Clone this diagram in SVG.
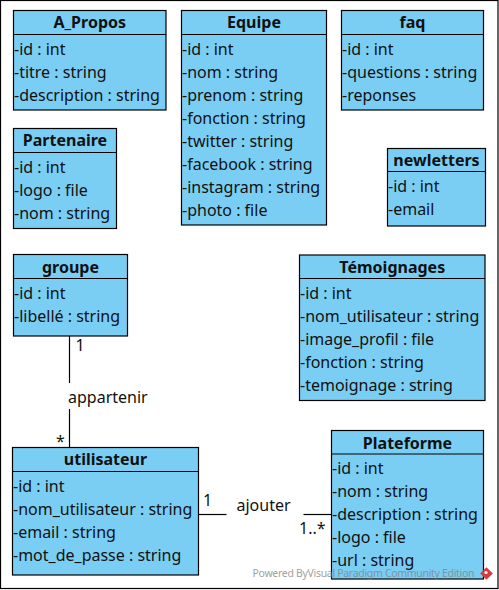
<svg xmlns="http://www.w3.org/2000/svg" width="499" height="590" viewBox="0 0 499 590">
<style>
.box{fill:#7acef4;stroke:#000;stroke-width:1.2}
.sep{stroke:#000;stroke-width:1.2}
.t{font-family:"Noto Sans","Open Sans","DejaVu Sans",sans-serif;font-size:16px;fill:#111}
.h{font-family:"Noto Sans","Open Sans","DejaVu Sans",sans-serif;font-size:16px;font-weight:bold;fill:#111;text-anchor:middle}
.ln{stroke:#000;stroke-width:1.2;fill:none}
.wm{font-family:"Noto Sans","DejaVu Sans",sans-serif;font-size:10.5px;fill:#808080;opacity:0.75}
</style>
<rect x="0.5" y="0.5" width="497.5" height="588" fill="#fff" stroke="#000" stroke-width="1.2"/>

<g id="A_Propos">
<rect class="box" x="13.5" y="10.5" width="152.5" height="99.5"/>
<line class="sep" x1="13.5" y1="34.5" x2="166" y2="34.5"/>
<text class="h" x="89.75" y="28.3">A_Propos</text>
<text class="t" x="14" y="54.5">-id : int</text>
<text class="t" x="14" y="77.5">-titre : string</text>
<text class="t" x="14" y="100.5">-description : string</text>
</g>

<g id="Equipe">
<rect class="box" x="181.5" y="10.5" width="145" height="214.5"/>
<line class="sep" x1="181.5" y1="34.5" x2="326.5" y2="34.5"/>
<text class="h" x="254" y="28.3">Equipe</text>
<text class="t" x="182" y="54.5">-id : int</text>
<text class="t" x="182" y="77.5">-nom : string</text>
<text class="t" x="182" y="100.5">-prenom : string</text>
<text class="t" x="182" y="123.5">-fonction : string</text>
<text class="t" x="182" y="146.5">-twitter : string</text>
<text class="t" x="182" y="169.5">-facebook : string</text>
<text class="t" x="182" y="192.5">-instagram : string</text>
<text class="t" x="182" y="215.5">-photo : file</text>
</g>

<g id="faq">
<rect class="box" x="341.5" y="10.5" width="142" height="99.5"/>
<line class="sep" x1="341.5" y1="34.5" x2="483.5" y2="34.5"/>
<text class="h" x="412.5" y="28.3">faq</text>
<text class="t" x="342" y="54.5">-id : int</text>
<text class="t" x="342" y="77.5">-questions : string</text>
<text class="t" x="342" y="100.5">-reponses</text>
</g>

<g id="Partenaire">
<rect class="box" x="13.5" y="128.5" width="103" height="100"/>
<line class="sep" x1="13.5" y1="152.5" x2="116.5" y2="152.5"/>
<text class="h" x="65" y="146.3">Partenaire</text>
<text class="t" x="14" y="172.5">-id : int</text>
<text class="t" x="14" y="195.5">-logo : file</text>
<text class="t" x="14" y="218.5">-nom : string</text>
</g>

<g id="newletters">
<rect class="box" x="387.5" y="148.5" width="98" height="77.5"/>
<line class="sep" x1="387.5" y1="171.5" x2="485.5" y2="171.5"/>
<text class="h" x="436.5" y="166">newletters</text>
<text class="t" x="388" y="191.7">-id : int</text>
<text class="t" x="388" y="214.7">-email</text>
</g>

<g id="Temoignages">
<rect class="box" x="299.5" y="255" width="185.5" height="145.5"/>
<line class="sep" x1="299.5" y1="278.5" x2="485" y2="278.5"/>
<text class="h" x="392.25" y="273">Témoignages</text>
<text class="t" x="300" y="298.5">-id : int</text>
<text class="t" x="300" y="321.5">-nom_utilisateur : string</text>
<text class="t" x="300" y="344.5">-image_profil : file</text>
<text class="t" x="300" y="367.5">-fonction : string</text>
<text class="t" x="300" y="390.5">-temoignage : string</text>
</g>

<g id="groupe">
<rect class="box" x="13.5" y="254.5" width="114" height="81.5"/>
<line class="sep" x1="13.5" y1="278.5" x2="127.5" y2="278.5"/>
<text class="h" x="70.5" y="272.5">groupe</text>
<text class="t" x="14" y="298.5">-id : int</text>
<text class="t" x="14" y="321.5">-libellé : string</text>
</g>

<g id="utilisateur">
<rect class="box" x="12.5" y="447.5" width="186" height="127.5"/>
<line class="sep" x1="12.5" y1="471.5" x2="198.5" y2="471.5"/>
<text class="h" x="105.5" y="465.3">utilisateur</text>
<text class="t" x="13" y="491.5">-id : int</text>
<text class="t" x="13" y="514.5">-nom_utilisateur : string</text>
<text class="t" x="13" y="537.5">-email : string</text>
<text class="t" x="13" y="560.5">-mot_de_passe : string</text>
</g>

<g id="Plateforme">
<rect class="box" x="331.5" y="430.5" width="152" height="148.5"/>
<line class="sep" x1="331.5" y1="454" x2="483.5" y2="454"/>
<text class="h" x="407.5" y="448.5">Plateforme</text>
<text class="t" x="332" y="473.5">-id : int</text>
<text class="t" x="332" y="496.5">-nom : string</text>
<text class="t" x="332" y="519.5">-description : string</text>
<text class="t" x="332" y="542.5">-logo : file</text>
<text class="t" x="332" y="565.5">-url : string</text>
</g>

<g id="connectors">
<line class="ln" x1="69.5" y1="336" x2="69.5" y2="383"/>
<line class="ln" x1="69.5" y1="409" x2="69.5" y2="447.5"/>
<text class="t" x="75.5" y="350.5">1</text>
<text class="t" x="68" y="402.5">appartenir</text>
<text class="t" x="56" y="446.5">*</text>
<line class="ln" x1="198.5" y1="514.5" x2="226.5" y2="514.5"/>
<line class="ln" x1="303.5" y1="514.5" x2="331.5" y2="514.5"/>
<text class="t" x="203" y="505.5">1</text>
<text class="t" x="236.5" y="510.5">ajouter</text>
<text class="t" x="299" y="533.5">1..*</text>
</g>

<g id="watermark">
<text class="wm" x="252.5" y="576.5" textLength="222" lengthAdjust="spacing">Powered ByVisual Paradigm Community Edition</text>
<rect x="482" y="569" width="9" height="9" fill="#d93a3a" transform="rotate(45 486.5 573.5)"/>
<circle cx="486" cy="572.5" r="1.6" fill="#fff"/>
</g>
</svg>
